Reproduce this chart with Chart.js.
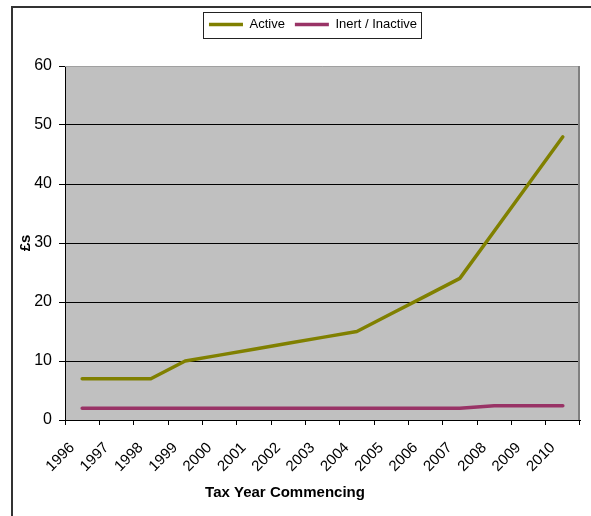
<!DOCTYPE html>
<html>
<head>
<meta charset="utf-8">
<script src="https://cdn.jsdelivr.net/npm/chart.js@4/dist/chart.umd.min.js"></script>
<style>
  html, body { margin: 0; padding: 0; background: #ffffff; }
  #wrap { position: relative; width: 591px; height: 516px; }
</style>
</head>
<body>
<div id="wrap"><canvas id="c" width="591" height="516"></canvas></div>
<script>
const years = ['1996','1997','1998','1999','2000','2001','2002','2003','2004','2005','2006','2007','2008','2009','2010'];
const activeValues = [7, 7, 7, 10, 11, 12, 13, 14, 15, 18, 21, 24, 32, 40, 48];
const inactiveValues = [2, 2, 2, 2, 2, 2, 2, 2, 2, 2, 2, 2, 2.4, 2.4, 2.4];
const seriesNames = ['Active', 'Inert / Inactive'];
const yTicks = [0, 10, 20, 30, 40, 50, 60];
const xTitle = 'Tax Year Commencing';
const yTitle = '£s';

const FONT = "'Liberation Sans', Arial, sans-serif";

const decor = {
  id: 'decor',
  afterInit(chart) {
    const lg = chart.legend;
    if (lg) {
      const orig = lg.fit;
      lg.fit = function () {
        orig.call(this);
        this.height = 58;
      };
    }
  },
  afterLayout(chart) {
    const lg = chart.legend;
    if (lg) {
      lg.left += 8;
      lg.right += 8;
    }
  },
  beforeDatasetsDraw(chart) {
    const { ctx, chartArea: a } = chart;
    ctx.save();
    ctx.strokeStyle = '#a0a0a0';
    ctx.lineWidth = 1;
    ctx.beginPath();
    ctx.moveTo(a.left, a.top + 0.5);
    ctx.lineTo(a.right, a.top + 0.5);
    ctx.stroke();
    ctx.strokeStyle = '#808080';
    ctx.lineWidth = 2;
    ctx.beginPath();
    ctx.moveTo(a.right - 1, a.top);
    ctx.lineTo(a.right - 1, a.bottom);
    ctx.stroke();
    ctx.restore();
  },
  beforeDraw(chart) {
    const { ctx, chartArea: a } = chart;
    ctx.save();
    ctx.fillStyle = '#C0C0C0';
    ctx.fillRect(a.left, a.top, a.right - a.left, a.bottom - a.top);
    ctx.restore();
  },
  afterDraw(chart) {
    const { ctx } = chart;
    ctx.save();
    ctx.strokeStyle = '#333333';
    ctx.lineWidth = 2;
    ctx.beginPath();
    ctx.moveTo(12, 516);
    ctx.lineTo(12, 7);
    ctx.lineTo(591, 7);
    ctx.stroke();
    const hb = chart.legend.legendHitBoxes;
    if (hb && hb.length) {
      const x0 = Math.round(hb[0].left - 6) + 0.5;
      const last = hb[hb.length - 1];
      const x1 = Math.round(last.left + last.width + 4) + 0.5;
      const cy = hb[0].top + hb[0].height / 2;
      const y0 = Math.round(cy - 13) + 0.5;
      const y1 = Math.round(cy + 13) + 0.5;
      ctx.strokeStyle = '#222222';
      ctx.lineWidth = 1;
      ctx.strokeRect(x0, y0, x1 - x0, y1 - y0);
    }
    ctx.fillStyle = '#000000';
    ctx.font = 'bold 15px ' + FONT;
    ctx.textAlign = 'center';
    ctx.textBaseline = 'middle';
    ctx.fillText(xTitle, 285, 493);
    ctx.translate(26, 243);
    ctx.rotate(-Math.PI / 2);
    ctx.fillText(yTitle, 0, 0);
    ctx.restore();
  }
};

new Chart(document.getElementById('c'), {
  type: 'line',
  data: {
    labels: years,
    datasets: [
      {
        label: seriesNames[0],
        data: activeValues,
        borderColor: '#808000',
        backgroundColor: '#808000',
        borderWidth: 3.5,
        pointRadius: 0,
        tension: 0,
        borderCapStyle: 'round',
        borderJoinStyle: 'round'
      },
      {
        label: seriesNames[1],
        data: inactiveValues,
        borderColor: '#993366',
        backgroundColor: '#993366',
        borderWidth: 3.5,
        pointRadius: 0,
        tension: 0,
        borderCapStyle: 'round',
        borderJoinStyle: 'round'
      }
    ]
  },
  options: {
    responsive: false,
    animation: false,
    devicePixelRatio: 1,
    layout: { padding: { left: 30, right: 11, top: 8, bottom: 0 } },
    plugins: {
      legend: {
        display: true,
        position: 'top',
        labels: {
          usePointStyle: true,
          pointStyle: 'line',
          pointStyleWidth: 34,
          padding: 10,
          color: '#000000',
          font: { family: FONT, size: 13 }
        }
      },
      tooltip: { enabled: false }
    },
    scales: {
      x: {
        type: 'category',
        offset: true,
        grid: {
          offset: true,
          drawOnChartArea: false,
          drawTicks: true,
          tickLength: 5,
          tickColor: '#000000',
          color: '#000000'
        },
        border: { display: true, color: '#000000', width: 1 },
        ticks: {
          minRotation: 45,
          maxRotation: 45,
          autoSkip: false,
          color: '#000000',
          labelOffset: -10,
          padding: 14,
          font: { family: FONT, size: 15 }
        },
        afterFit(scale) { scale.height = 96; }
      },
      y: {
        min: 0,
        max: 60,
        afterBuildTicks(scale) { scale.ticks = yTicks.map(v => ({ value: v })); },
        grid: {
          drawOnChartArea: true,
          tickLength: 6,
          tickColor: '#000000',
          color: (c) => (c.tick && (c.tick.value === 0 || c.tick.value === 60)) ? 'rgba(0,0,0,0)' : '#000000',
          lineWidth: 1
        },
        border: { display: true, color: '#000000', width: 1 },
        ticks: {
          color: '#000000',
          padding: 7,
          font: { family: FONT, size: 16 }
        },
        afterFit(scale) { scale.width = 35; }
      }
    }
  },
  plugins: [decor]
});
</script>
</body>
</html>
